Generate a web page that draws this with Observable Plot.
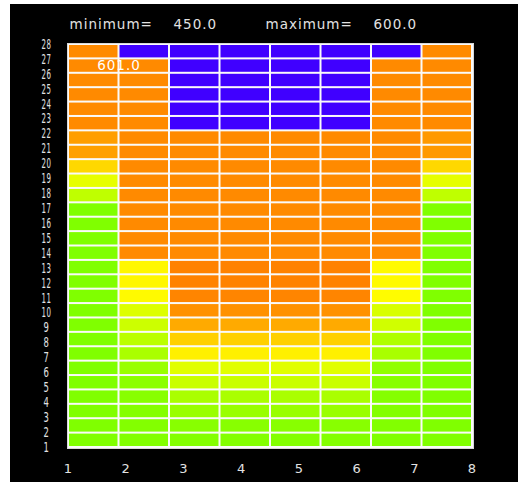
<!DOCTYPE html>
<html>
<head>
<meta charset="utf-8">
<script src="https://cdn.jsdelivr.net/npm/d3@7"></script>
<script src="https://cdn.jsdelivr.net/npm/@observablehq/plot@0.6"></script>
<style>
  html, body { margin: 0; padding: 0; background: #fff; }
  #backdrop { position: absolute; left: 10px; top: 4px; width: 508px; height: 478px; background: #000; }
  #chart { position: absolute; left: 0; top: 0; }
</style>
</head>
<body>
<div id="backdrop"></div>
<div id="chart"></div>
<script>
// Grid labels
const colLabels = [1, 2, 3, 4, 5, 6, 7, 8];
const rowLabels = [1, 2, 3, 4, 5, 6, 7, 8, 9, 10, 11, 12, 13, 14, 15, 16, 17, 18, 19, 20, 21, 22, 23, 24, 25, 26, 27, 28];

// Colour range limits
const scaleMin = 450.0;
const scaleMax = 600.0;

// Cell values per column, listed from row 1 (bottom) to row 28 (top)
const col1 = [450, 450, 450, 450, 450, 450, 450, 450, 450, 450, 450, 450, 450, 450, 450, 450, 450, 487, 511, 548, 581, 582, 594, 594, 594, 594, 594, 594];
const col2 = [451, 452, 453, 455, 457, 465, 475, 485, 495, 505, 528, 530, 530, 594, 594, 594, 594, 594, 594, 594, 594, 594, 594, 594, 594, 594, 594, 601];
const col3 = [452, 455, 465, 475, 493, 507, 534, 553, 575, 590, 597, 599, 599, 594, 594, 594, 594, 594, 594, 594, 594, 594, 601, 601, 601, 601, 601, 601];
const col4 = [452, 455, 465, 475, 493, 507, 534, 553, 575, 590, 597, 599, 599, 594, 594, 594, 594, 594, 594, 594, 594, 594, 601, 601, 601, 601, 601, 601];
const col5 = [452, 455, 465, 475, 493, 507, 534, 553, 575, 590, 597, 599, 599, 594, 594, 594, 594, 594, 594, 594, 594, 594, 601, 601, 601, 601, 601, 601];
const col6 = [452, 455, 465, 475, 493, 507, 534, 553, 575, 590, 597, 599, 599, 594, 594, 594, 594, 594, 594, 594, 594, 594, 601, 601, 601, 601, 601, 601];
const col7 = [450, 451, 452, 453, 455, 460, 474, 478, 497, 502, 527, 528, 528, 594, 594, 594, 594, 594, 594, 594, 594, 594, 594, 594, 594, 594, 594, 601];
const col8 = [450, 450, 450, 450, 450, 450, 450, 450, 450, 450, 450, 450, 450, 450, 450, 450, 450, 487, 510, 548, 585, 585, 594, 594, 594, 594, 594, 594];

// Value readout shown over the grid
const readout = { col: 2, row: 27, value: 601.0 };

const columns = [col1, col2, col3, col4, col5, col6, col7, col8];
const cells = columns.flatMap((vals, i) =>
  vals.map((v, j) => ({ col: colLabels[i], row: rowLabels[j], value: v }))
);

// The axes run from the first to the last label across the whole grid,
// so each cell edge sits at a fraction of that span.
const nCols = colLabels.length, nRows = rowLabels.length;
const xSpan = colLabels[nCols - 1] - colLabels[0];
const ySpan = rowLabels[nRows - 1] - rowLabels[0];
const xEdge = c => colLabels[0] + (c - colLabels[0]) * xSpan / nCols;
const yEdge = r => rowLabels[0] + (r - rowLabels[0]) * ySpan / nRows;

const headerFont = { fontSize: 13.5, fill: "#e2e2e2", frameAnchor: "top-left", textAnchor: "start", lineAnchor: "middle", dy: -20 };
const header = (text, dx) => Plot.text([text], { ...headerFont, text: d => d, dx });

const plot = Plot.plot({
  width: 528,
  height: 487,
  marginLeft: 68,
  marginRight: 56,
  marginTop: 44,
  marginBottom: 40,
  style: { background: "transparent", color: "#e2e2e2", fontFamily: "DejaVu Sans", letterSpacing: "1px" },
  x: { domain: [colLabels[0], colLabels[nCols - 1]] },
  y: { domain: [rowLabels[0], rowLabels[nRows - 1]] },
  color: {
    type: "linear",
    domain: [scaleMin, scaleMax, scaleMax + 0.5, scaleMax + 100],
    range: ["#80ff00", "#ff8000", "#4000ff", "#4000ff"],
    interpolate: "hsl"
  },
  marks: [
    Plot.frame({ fill: "#fafafa", stroke: "#d8d8d8", inset: -1 }),
    Plot.rect(cells, {
      x1: d => xEdge(d.col),
      x2: d => xEdge(d.col + 1),
      y1: d => yEdge(d.row),
      y2: d => yEdge(d.row + 1),
      fill: "value",
      inset: 1
    }),
    Plot.axisX(colLabels, { tickSize: 0, tickPadding: 16, tickFormat: d => String(d), label: null, fill: "#e2e2e2" }),
    Plot.axisY(rowLabels, { tickSize: 0, tickPadding: 22, textAnchor: "middle", tickFormat: d => String(d), label: null, fill: "#e2e2e2" }),
    Plot.text([readout], {
      x: d => xEdge(d.col),
      y: d => (yEdge(d.row) + yEdge(d.row + 1)) / 2,
      text: d => d.value.toFixed(1),
      fill: "white",
      fontSize: 13.5
    }),
    header("minimum=", 1),
    header(scaleMin.toFixed(1), 105),
    header("maximum=", 197),
    header(scaleMax.toFixed(1), 305)
  ]
});

// Tick labels are the plain integer texts; group them by their parent
// (the column axis holds 8 labels, the row axis 28).
const tickTexts = [...plot.querySelectorAll("text")].filter(t => /^\d+$/.test(t.textContent.trim()));
const groups = new Map();
tickTexts.forEach(t => {
  if (!groups.has(t.parentNode)) groups.set(t.parentNode, []);
  groups.get(t.parentNode).push(t);
});
groups.forEach(texts => {
  const isRowAxis = texts.length === nRows;
  texts.forEach(t => {
    t.style.setProperty("font-size", isRowAxis ? "13.5px" : "13px", "important");
    if (isRowAxis) {
      // squeeze the crowded row labels so they fit the row pitch
      t.setAttribute("textLength", t.textContent.trim().length > 1 ? 10 : 6);
      t.setAttribute("lengthAdjust", "spacingAndGlyphs");
    }
  });
});

document.getElementById("chart").appendChild(plot);
</script>
</body>
</html>
